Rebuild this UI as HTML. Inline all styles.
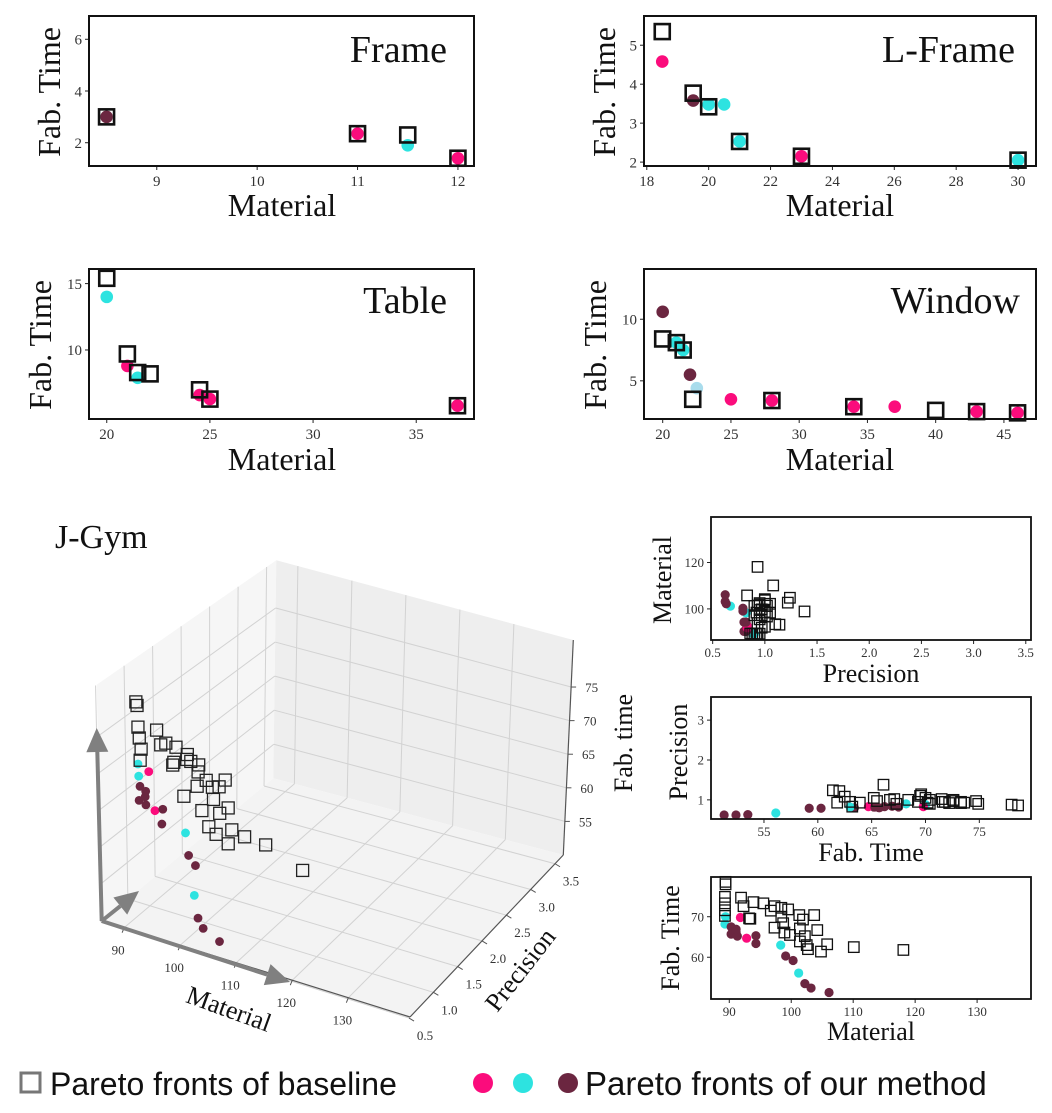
<!DOCTYPE html>
<html><head><meta charset="utf-8"><title>Pareto fronts</title>
<style>
html,body{margin:0;padding:0;background:#fff;}
svg{display:block;}
text{font-family:"Liberation Serif","DejaVu Serif",serif;}
</style></head>
<body>
<svg id="fig" width="1052" height="1113" viewBox="0 0 1052 1113" xmlns="http://www.w3.org/2000/svg">
<rect x="0" y="0" width="1052" height="1113" fill="#fff"/>
</svg>
<script>
// ---------- data ----------
const frameBase = [[8.5,3.0],[11,2.35],[11.5,2.3],[12,1.4]];
const frameOurs = [[8.5,3.0,'D'],[11,2.35,'P'],[11.5,1.9,'C'],[12,1.4,'P']];
const lframeBase = [[18.5,5.35],[19.5,3.77],[20,3.42],[21,2.53],[23,2.15],[30,2.05]];
const lframeOurs = [[18.5,4.58,'P'],[19.5,3.58,'D'],[20,3.48,'C'],[20.5,3.48,'C'],[21,2.53,'C'],[23,2.15,'P'],[30,2.05,'C']];
const tableBase = [[20,15.4],[21,9.7],[21.5,8.3],[22.1,8.2],[24.5,7.0],[25,6.3],[37,5.8]];
const tableOurs = [[20,14,'C'],[21,8.8,'P'],[21.5,7.9,'C'],[24.5,6.6,'P'],[25,6.3,'P'],[37,5.8,'P']];
const windowBase = [[20,8.4],[21,8.1],[21.5,7.5],[22.2,3.5],[28,3.4],[34,2.9],[40,2.6],[43,2.5],[46,2.4]];
const windowOurs = [[20,10.6,'D'],[21,8.1,'C'],[21.5,7.5,'C'],[22,5.5,'D'],[22.5,4.4,'L'],[25,3.5,'P'],[28,3.4,'P'],[34,2.9,'P'],[37,2.9,'P'],[43,2.5,'P'],[46,2.4,'P']];
// J-Gym: [material, precision, fab time]
const gymBase = [[89.4,0.86,78.6],[89.4,0.88,78.0],[89.3,0.9,74.9],[89.3,0.92,73.3],[89.3,0.95,71.6],[89.3,0.93,70.2],
[91.9,0.97,74.7],[92.3,1.0,72.6],[93.2,1.14,69.6],[93.4,1.1,69.5],[93.9,0.93,73.6],[95.5,0.95,73.3],[97.3,0.97,72.6],[96.7,1.02,71.5],
[98.4,0.92,72.2],[99.5,0.95,71.8],[97.3,0.9,67.3],[98.7,1.0,68.4],[98.9,1.38,66.1],[99.8,0.97,65.5],[101.3,0.9,70.4],[101.9,0.95,69.3],
[103.7,1.0,70.4],[101.4,1.02,67.1],[102.2,1.05,65.2],[101.4,0.93,63.9],[102.5,0.95,63.0],[102.7,1.22,62.0],[104.2,1.0,66.7],
[104.8,1.24,61.4],[105.8,0.83,63.2],[110.1,1.08,62.5],[118.1,0.93,61.8],[98.4,1.05,70.0]];
const gymOurs = [[89.4,0.88,70.0,'C'],[89.3,0.9,68.2,'C'],[90.3,0.82,67.5,'D'],[90.3,0.8,65.7,'D'],[91.1,0.83,66.2,'D'],[91.3,0.82,65.2,'D'],
[91.1,0.84,66.9,'D'],[91.8,0.83,69.8,'P'],[92.8,0.83,64.7,'P'],[94.3,0.82,65.3,'D'],[94.3,0.8,63.4,'D'],[98.3,0.82,63.0,'C'],
[99.1,0.79,60.3,'D'],[100.3,0.79,59.2,'D'],[101.2,0.67,56.1,'C'],[102.2,0.63,53.5,'D'],[103.2,0.62,52.4,'D'],[106.1,0.62,51.3,'D']];
const gymMatTicks = [90,100,110,120,130];
const gymPrecTicks = [0.5,1.0,1.5,2.0,2.5,3.0,3.5];
const gymFabTicks = [55,60,65,70,75];

const COL = {P:'#fb0c7c', C:'#2de3e0', D:'#6b2640', L:'#a9dcec'};
const NS = 'http://www.w3.org/2000/svg';
const svg = document.getElementById('fig');

function mk(tag, attrs, parent){
  const e = document.createElementNS(NS, tag);
  for (const k in attrs) e.setAttribute(k, attrs[k]);
  (parent || svg).appendChild(e);
  return e;
}
function txt(parent, x, y, s, size, anchor, rot, fam){
  const t = mk('text', {x:x, y:y, 'font-size':size, 'text-anchor':anchor||'start', fill:'#111'}, parent);
  if (rot) t.setAttribute('transform', 'rotate(' + rot + ' ' + x + ' ' + y + ')');
  if (fam) t.setAttribute('style', 'font-family:' + fam);
  t.textContent = s;
  return t;
}

// ---------- 2D panel ----------
function panel(cfg){
  const g = mk('g', {});
  
  
  const [x0,y0,x1,y1] = cfg.box;
  const sx = v => x0 + (v - cfg.xlim[0]) / (cfg.xlim[1] - cfg.xlim[0]) * (x1 - x0);
  const sy = v => y1 - (v - cfg.ylim[0]) / (cfg.ylim[1] - cfg.ylim[0]) * (y1 - y0);
  cfg.xticks.forEach((t, i) => {
    const l = mk('line', {x1:sx(t), x2:sx(t), y1:y1, y2:y1+4, stroke:'#222', 'stroke-width':1}, g);
    
    
    const lab = txt(g, sx(t), y1 + cfg.tickDy, cfg.xtickLabels[i], cfg.tickSize, 'middle');
    lab.setAttribute('fill', '#333');
    
    
  });
  cfg.yticks.forEach((t, i) => {
    const l = mk('line', {x1:x0-4, x2:x0, y1:sy(t), y2:sy(t), stroke:'#222', 'stroke-width':1}, g);
    
    
    const lab = txt(g, x0 - 7, sy(t) + cfg.tickSize*0.35, cfg.ytickLabels[i], cfg.tickSize, 'end');
    lab.setAttribute('fill', '#333');
    
    
  });
  cfg.ours.forEach(p => {
    const c = mk('circle', {cx:sx(p[cfg.ix]), cy:sy(p[cfg.iy]), r:cfg.r, fill:COL[p[cfg.ic]]}, g);
    
    
  });
  cfg.base.forEach(p => {
    const s = cfg.sq;
    const r = mk('rect', {x:sx(p[cfg.bx]) - s/2, y:sy(p[cfg.by]) - s/2, width:s, height:s, fill:'none', stroke:'#111', 'stroke-width':cfg.sw}, g);
    
    
  });
  const fr = mk('rect', {x:x0, y:y0, width:x1-x0, height:y1-y0, fill:'none', stroke:'#111', 'stroke-width':cfg.fw}, g);
  
  
  const xl = txt(g, cfg.xlab[1], cfg.xlab[2], cfg.xlab[0], cfg.labSize, 'middle');
  
  
  const yl = txt(g, cfg.ylab[1], cfg.ylab[2], cfg.ylab[0], cfg.labSize, 'middle', -90);
  
  
  if (cfg.title){
    const tt = txt(g, cfg.title[1], cfg.title[2], cfg.title[0], 38, 'end');
    
    
  }
}
const fmt1 = a => a.map(v => v.toFixed(1));
const fmt0 = a => a.map(v => String(v));
const big = {r:6.3, sq:15, sw:2.6, fw:2, tickSize:15, tickDy:20, labSize:32, ix:0, iy:1, ic:2, bx:0, by:1};

panel(Object.assign({}, big, {name:'frame-chart', box:[89,16,474,166], xlim:[8.325,12.16], ylim:[1.1,6.9],
  xticks:[9,10,11,12], xtickLabels:fmt0([9,10,11,12]), yticks:[2,4,6], ytickLabels:fmt0([2,4,6]),
  base:frameBase, ours:frameOurs, xlab:['Material',282,216], ylab:['Fab. Time',60,92], title:['Frame',447,62]}));
panel(Object.assign({}, big, {name:'l-frame-chart', box:[644,16,1036,166], xlim:[17.91,30.58], ylim:[1.9,5.75],
  xticks:[18,20,22,24,26,28,30], xtickLabels:fmt0([18,20,22,24,26,28,30]), yticks:[2,3,4,5], ytickLabels:fmt0([2,3,4,5]),
  base:lframeBase, ours:lframeOurs, xlab:['Material',840,216], ylab:['Fab. Time',615,92], title:['L-Frame',1015,62]}));
panel(Object.assign({}, big, {name:'table-chart', box:[89,269,474,419], xlim:[19.14,37.8], ylim:[4.8,16.1],
  xticks:[20,25,30,35], xtickLabels:fmt0([20,25,30,35]), yticks:[10,15], ytickLabels:fmt0([10,15]),
  base:tableBase, ours:tableOurs, xlab:['Material',282,470], ylab:['Fab. Time',51,345], title:['Table',447,313]}));
panel(Object.assign({}, big, {name:'window-chart', box:[644,269,1036,419], xlim:[18.63,47.35], ylim:[1.9,14.08],
  xticks:[20,25,30,35,40,45], xtickLabels:fmt0([20,25,30,35,40,45]), yticks:[5,10], ytickLabels:fmt0([5,10]),
  base:windowBase, ours:windowOurs, xlab:['Material',840,470], ylab:['Fab. Time',606,345], title:['Window',1020,313]}));

const small = {r:4.6, sq:10.5, sw:1.3, fw:1.8, tickSize:13, tickDy:17, labSize:26, ic:3};
panel(Object.assign({}, small, {name:'precision-material-chart', box:[711,517,1031,640], xlim:[0.484,3.55], ylim:[86.6,139.6],
  xticks:[0.5,1,1.5,2,2.5,3,3.5], xtickLabels:fmt1([0.5,1,1.5,2,2.5,3,3.5]), yticks:[100,120], ytickLabels:fmt0([100,120]),
  ix:1, iy:0, bx:1, by:0, base:gymBase, ours:gymOurs, xlab:['Precision',871,682], ylab:['Material',671,580]}));
panel(Object.assign({}, small, {name:'fabtime-precision-chart', box:[711,697,1031,819], xlim:[50.08,79.8], ylim:[0.52,3.58],
  xticks:[55,60,65,70,75], xtickLabels:fmt0([55,60,65,70,75]), yticks:[1,2,3], ytickLabels:fmt0([1,2,3]),
  ix:2, iy:1, bx:2, by:1, base:gymBase, ours:gymOurs, xlab:['Fab. Time',871,861], ylab:['Precision',687,752]}));
panel(Object.assign({}, small, {name:'material-fabtime-chart', box:[711,877,1031,999], xlim:[87.05,138.7], ylim:[49.7,79.8],
  xticks:[90,100,110,120,130], xtickLabels:fmt0([90,100,110,120,130]), yticks:[60,70], ytickLabels:fmt0([60,70]),
  ix:0, iy:2, bx:0, by:2, base:gymBase, ours:gymOurs, xlab:['Material',871,1040], ylab:['Fab. Time',679,938]}));

// ---------- 3D J-Gym ----------
const g3 = mk('g', {});


const XL=[86,141], YL=[0.52,3.67], ZL=[50,82];
const FA=[101.7,920.7], FB=[410,1017], FC=[563.3,855], FD=[273.3,778.3];
const HT=[236,238,215,218], DXT=[-5,2,10,3];
function proj(m, p, f){
  const u=(m-XL[0])/(XL[1]-XL[0]), v=(p-YL[0])/(YL[1]-YL[0]), w=(f-ZL[0])/(ZL[1]-ZL[0]);
  const a=(1-u)*(1-v), b=u*(1-v), c=u*v, d=(1-u)*v;
  const x=a*FA[0]+b*FB[0]+c*FC[0]+d*FD[0];
  const y=a*FA[1]+b*FB[1]+c*FC[1]+d*FD[1];
  const h=a*HT[0]+b*HT[1]+c*HT[2]+d*HT[3];
  const dx=a*DXT[0]+b*DXT[1]+c*DXT[2]+d*DXT[3];
  return [x+dx*w, y-h*w];
}
function poly(pts, fill){
  return mk('polygon', {points:pts.map(q=>q.join(',')).join(' '), fill:fill, stroke:'none'}, g3);
}
const paneL = poly([proj(XL[0],YL[0],ZL[0]),proj(XL[0],YL[1],ZL[0]),proj(XL[0],YL[1],ZL[1]),proj(XL[0],YL[0],ZL[1])], '#f6f6f6');


const paneB = poly([proj(XL[0],YL[1],ZL[0]),proj(XL[1],YL[1],ZL[0]),proj(XL[1],YL[1],ZL[1]),proj(XL[0],YL[1],ZL[1])], '#eeeeee');


const paneF = poly([proj(XL[0],YL[0],ZL[0]),proj(XL[1],YL[0],ZL[0]),proj(XL[1],YL[1],ZL[0]),proj(XL[0],YL[1],ZL[0])], '#f3f3f3');


function seg(p, q, col, w){
  return mk('line', {x1:p[0], y1:p[1], x2:q[0], y2:q[1], stroke:col, 'stroke-width':w}, g3);
}
const GC='#d2d2d2';
gymMatTicks.forEach(m => {
  const a = seg(proj(m,YL[0],ZL[0]), proj(m,YL[1],ZL[0]), GC, 1);
  
  
  const b = seg(proj(m,YL[1],ZL[0]), proj(m,YL[1],ZL[1]), GC, 1);
  
  
});
gymPrecTicks.forEach(p => {
  const a = seg(proj(XL[0],p,ZL[0]), proj(XL[1],p,ZL[0]), GC, 1);
  
  
  const b = seg(proj(XL[0],p,ZL[0]), proj(XL[0],p,ZL[1]), GC, 1);
  
  
});
gymFabTicks.forEach(f => {
  const a = seg(proj(XL[0],YL[0],f), proj(XL[0],YL[1],f), GC, 1);
  
  
  const b = seg(proj(XL[0],YL[1],f), proj(XL[1],YL[1],f), GC, 1);
  
  
});
const ax1 = seg(proj(XL[0],YL[0],ZL[0]), proj(XL[1],YL[0],ZL[0]), '#555', 1.2);


const ax2 = seg(proj(XL[1],YL[0],ZL[0]), proj(XL[1],YL[1],ZL[0]), '#555', 1.2);


const ax3 = seg(proj(XL[1],YL[1],ZL[0]), proj(XL[1],YL[1],ZL[1]), '#555', 1.2);


gymMatTicks.forEach(m => {
  const p = proj(m,YL[0],ZL[0]);
  const t = seg(p, [p[0]-2, p[1]+5], '#555', 1);
  
  
  const l = txt(g3, p[0]-6, p[1]+27, String(m), 13, 'middle');
  l.setAttribute('fill', '#333');
  
  
});
gymPrecTicks.forEach(v => {
  const p = proj(XL[1],v,ZL[0]);
  const t = seg(p, [p[0]+5, p[1]+3], '#555', 1);
  
  
  const l = txt(g3, p[0]+16, p[1]+22, v.toFixed(1), 13, 'middle');
  l.setAttribute('fill', '#333');
  
  
});
gymFabTicks.forEach(f => {
  const p = proj(XL[1],YL[1],f);
  const t = seg(p, [p[0]+5, p[1]], '#555', 1);
  
  
  const l = txt(g3, p[0]+14, p[1]+5, String(f), 13, 'start');
  l.setAttribute('fill', '#333');
  
  
});
gymOurs.forEach(q => {
  const p = proj(q[0], q[1], q[2]);
  const c = mk('circle', {cx:p[0], cy:p[1], r:4.4, fill:COL[q[3]]}, g3);
  
  
});
gymBase.forEach(q => {
  const p = proj(q[0], q[1], q[2]);
  const r = mk('rect', {x:p[0]-6, y:p[1]-6, width:12, height:12, fill:'none', stroke:'#222', 'stroke-width':1.3}, g3);
  
  
});
function arrow(from, to, name){
  const dx = to[0]-from[0], dy = to[1]-from[1], L = Math.hypot(dx,dy), ux = dx/L, uy = dy/L;
  const hl = 24, hw = 11;
  const bx = to[0]-ux*hl, by = to[1]-uy*hl;
  const ln = mk('line', {x1:from[0], y1:from[1], x2:bx, y2:by, stroke:'#808080', 'stroke-width':4}, g3);
  
  
  const hd = mk('polygon', {points:[to, [bx-uy*hw, by+ux*hw], [bx+uy*hw, by-ux*hw]].map(q=>q.join(',')).join(' '), fill:'#808080'}, g3);
  
  
}
arrow([101.7,921], [96.7,728], 'fab-time-arrow');
arrow([101.7,921], [290,982], 'material-arrow');
arrow([101.7,921], [139,891], 'precision-arrow');
const t3a = txt(g3, 226, 1017, 'Material', 26, 'middle', 20);


const t3b = txt(g3, 527, 975, 'Precision', 26, 'middle', -52);


const t3c = txt(g3, 632, 743, 'Fab. time', 26, 'middle', -90);


const t3d = txt(g3, 55, 548, 'J-Gym', 34, 'start');



// ---------- legend ----------
const lg = mk('g', {});


const ls = mk('rect', {x:21, y:1073, width:19, height:19, fill:'none', stroke:'#777', 'stroke-width':3}, lg);


const lt1 = txt(lg, 50, 1095, 'Pareto fronts of baseline', 32, 'start', 0, '"Liberation Sans",sans-serif');


const legendCols = ['P','C','D'];
const legendX = [483,523,568];
legendCols.forEach((k, i) => {
  const c = mk('circle', {cx:legendX[i], cy:1083, r:10, fill:COL[k]}, lg);
  
  
});
const lt2 = txt(lg, 585, 1095, 'Pareto fronts of our method', 33, 'start', 0, '"Liberation Sans",sans-serif');


</script>
</body></html>
